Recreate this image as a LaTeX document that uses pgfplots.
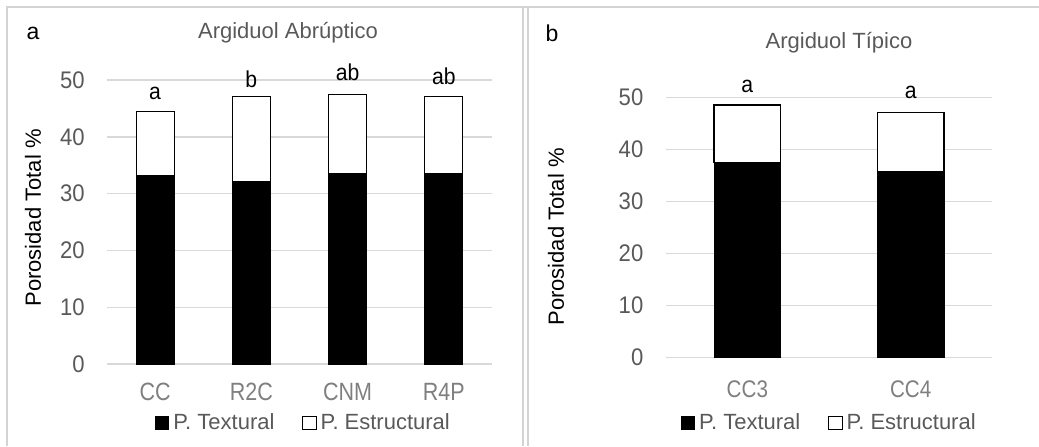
\documentclass[border=0pt]{standalone}
\usepackage{pgfplots}
\pgfplotsset{compat=1.18}
\usepackage{fontspec}
\setmainfont{Liberation Sans}
\newfontfamily\ynarrow[FakeStretch=0.92]{Liberation Sans}
\newfontfamily\xnarrow[FakeStretch=0.86]{Liberation Sans}
\definecolor{gridgray}{HTML}{D9D9D9}
\definecolor{txtgray}{HTML}{595959}
\definecolor{xgray}{HTML}{7F7F7F}
\definecolor{frame}{HTML}{D4D4D4}
\pgfplotsset{
  sqlegend/.style={legend image code/.code={\draw[##1, line width=0.5pt] (0pt,-3.3pt) rectangle (6.6pt,3.3pt);}},
  panel/.style={
    scale only axis, ybar stacked, ymin=0, ymax=50, ytick={0,10,...,50},
    ymajorgrids, grid style={gridgray, line width=0.7pt},
    axis line style={draw=none}, major tick length=0pt,
    /pgf/number format/assume math mode=true,
    yticklabel style={font=\ynarrow\fontsize{12}{13}\selectfont, text=txtgray, anchor=east, inner sep=0pt, xshift=-11pt},
    xtick=data, clip=false,
    legend columns=2,
    legend style={draw=none, fill=none, font=\fontsize{11}{12}\selectfont, text=txtgray,
      anchor=center, inner sep=0pt,
      /tikz/every even column/.append style={column sep=12pt},
      /tikz/every odd column/.append style={column sep=0pt}},
    legend cell align=left,
  },
}
\begin{document}
\begin{tikzpicture}
\path[use as bounding box] (0,0) rectangle (519.5pt,223pt);
\draw[frame, line width=1pt] (3.5pt,0) -- (3.5pt,219.5pt) -- (519.5pt,219.5pt);
\draw[frame, line width=1pt] (261.5pt,0) -- (261.5pt,219.5pt);
\draw[frame, line width=1pt] (264pt,0) -- (264pt,219.5pt);

% Panel a
\node[font=\fontsize{11.5}{12}\selectfont] at (16.5pt,206.5pt) {a};
\node[font=\fontsize{11}{12}\selectfont, text=txtgray] at (144pt,206.5pt) {Argiduol Abrúptico};
\node[font=\fontsize{11}{12}\selectfont, rotate=90] at (16.5pt,114pt) {Porosidad Total \%};
\begin{axis}[panel, at={(53.5pt,41pt)}, anchor=south west,
  width=192.5pt, height=142pt, xmin=-0.5, xmax=3.5, bar width=19pt,
  xticklabels={CC,R2C,CNM,R4P},
  xticklabel style={font=\xnarrow\fontsize{12.5}{14}\selectfont, text=xgray, anchor=center, inner sep=0pt, yshift=-14pt},
  legend style={at={(0.513,-0.208)}}]
\addplot[fill=black, draw=black, line width=0.5pt, sqlegend] coordinates {(0,33.2) (1,32.1) (2,33.6) (3,33.6)};
\addplot[fill=white, draw=black, line width=0.6pt, sqlegend] coordinates {(0,11.3) (1,15.0) (2,13.9) (3,13.5)};
\legend{P. Textural, P. Estructural}
\node[font=\ynarrow\fontsize{11.5}{12}\selectfont] at (axis cs:0,47.7) {a};
\node[font=\ynarrow\fontsize{11.5}{12}\selectfont] at (axis cs:1,50.2) {b};
\node[font=\ynarrow\fontsize{11.5}{12}\selectfont] at (axis cs:2,51.4) {ab};
\node[font=\ynarrow\fontsize{11.5}{12}\selectfont] at (axis cs:3,50.6) {ab};
\end{axis}

% Panel b
\node[font=\fontsize{11.5}{12}\selectfont] at (276pt,206.5pt) {b};
\node[font=\fontsize{11}{12}\selectfont, text=txtgray] at (419.5pt,201.5pt) {Argiduol Típico};
\node[font=\fontsize{11}{12}\selectfont, rotate=90] at (278pt,104.5pt) {Porosidad Total \%};
\begin{axis}[panel, at={(332.85pt,44.15pt)}, anchor=south west,
  width=163.35pt, height=130pt, xmin=-0.5, xmax=1.5, bar width=33.3pt,
  xticklabel style={font=\xnarrow\fontsize{12}{14}\selectfont, text=xgray, anchor=center, inner sep=0pt, yshift=-16pt},
  xticklabels={CC3,CC4},
  legend style={at={(0.504,-0.251)}}]
\addplot[fill=black, draw=black, line width=0.5pt, sqlegend] coordinates {(0,37.6) (1,35.7)};
\addplot[fill=white, draw=black, line width=0.6pt, sqlegend] coordinates {(0,11.0) (1,11.4)};
\legend{P. Textural, P. Estructural}
\node[font=\ynarrow\fontsize{11.5}{12}\selectfont] at (axis cs:0,52.1) {a};
\node[font=\ynarrow\fontsize{11.5}{12}\selectfont] at (axis cs:1,51.1) {a};
\end{axis}
\end{tikzpicture}
\end{document}
